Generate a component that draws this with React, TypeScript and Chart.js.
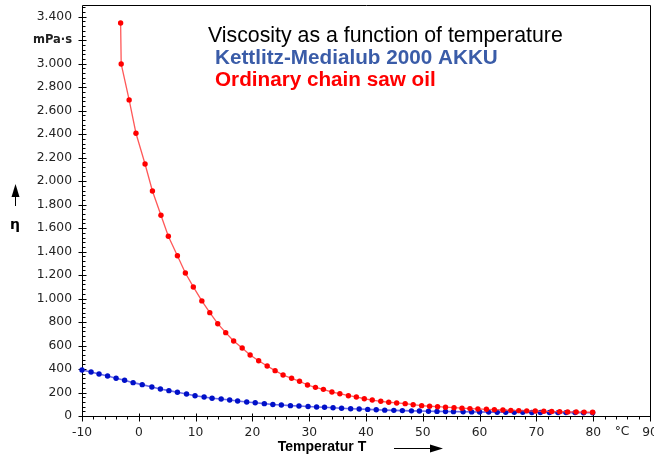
import React, { useEffect, useRef } from 'react';
import { Chart, registerables } from 'chart.js';

Chart.register(...registerables);

// ---- data ----
const kettlitzTemp = [
  -10, -8.4, -7.0, -5.5, -4.0, -2.5, -1.0, 0.6, 2.3, 3.8,
  5.3, 6.8, 8.4, 9.9, 11.5, 12.9, 14.5, 16.0, 17.4, 19.0,
  20.5, 22.1, 23.6, 25.1, 26.7, 28.2, 29.8, 31.3, 32.7, 34.2,
  35.7, 37.3, 38.8, 40.3, 41.8, 43.3, 44.9, 46.4, 48.0, 49.4,
  51.0, 52.5, 54.0, 55.4, 57.1, 58.6, 60.0, 61.6, 63.1, 64.6,
  66.1, 67.6, 69.2, 70.7, 72.3, 73.8, 75.2, 76.8, 78.3, 79.9,
];
const kettlitzVisc = [
  392, 375, 358, 341, 321, 304, 284, 267, 247, 230,
  216, 202, 187, 173, 162, 151, 145, 136, 128, 119,
  113, 105, 98, 94, 88, 85, 81, 77, 74, 70,
  66, 62, 59, 56, 53, 50, 48, 46, 44, 42,
  40, 39, 38, 37, 36, 35, 34, 33, 32, 32,
  31, 31, 30, 30, 30, 29, 29, 29, 28, 28,
];
const chainSawTemp = [
  -3.2, -3.1, -1.7, -0.5, 1.1, 2.4, 3.9, 5.2, 6.8, 8.2,
  9.6, 11.1, 12.5, 13.9, 15.3, 16.7, 18.2, 19.6, 21.1, 22.6,
  24.0, 25.4, 26.9, 28.3, 29.7, 31.1, 32.5, 34.0, 35.4, 36.9,
  38.3, 39.7, 41.1, 42.6, 44.0, 45.4, 46.9, 48.3, 49.8, 51.2,
  52.6, 54.0, 55.5, 56.9, 58.3, 59.7, 61.2, 62.6, 64.1, 65.5,
  66.9, 68.3, 69.8, 71.3, 72.7, 74.1, 75.5, 77.0, 78.4, 79.9,
];
const chainSawVisc = [
  3347, 2998, 2692, 2408, 2146, 1916, 1710, 1531, 1365, 1218,
  1099, 980, 880, 786, 710, 639, 579, 520, 471, 426,
  386, 349, 321, 296, 264, 244, 227, 204, 190, 173,
  162, 147, 136, 125, 117, 111, 105, 96, 88, 83,
  79, 75, 71, 67, 63, 60, 57, 54, 51, 48,
  46, 44, 42, 40, 38, 37, 35, 34, 33, 32,
];

const xMin = -10;
const xMax = 90;
const xStep = 10;
const xMinorStep = 2;
const yMin = 0;
const yMax = 3500;
const yStep = 200;
const yMinorStep = 40;
const yUnitTickValue = 3200;

const titleLines = [
  'Viscosity as a function of temperature',
  'Kettlitz-Medialub 2000 AKKU',
  'Ordinary chain saw oil',
];
const yUnitLabel = 'mPa·s';
const xAxisTitle = 'Temperatur T';
const yAxisTitle = 'η';
const xUnitLabel = '°C';

const TICK_FONT = 'DejaVu Sans';
const TICK_SIZE = 12.3;
const TICK_COLOR = '#222';

function fmtThousands(v: number): string {
  const s = Math.round(v).toString();
  return s.replace(/\B(?=(\d{3})+(?!\d))/g, '.');
}

const decorPlugin = {
  id: 'decor',
  beforeDatasetsDraw(chart: any) {
    const { ctx, chartArea } = chart;
    const xs = chart.scales.x;
    const ys = chart.scales.y;
    const { left, right, top, bottom } = chartArea;
    ctx.save();
    ctx.strokeStyle = '#000';
    ctx.lineWidth = 1;
    ctx.beginPath();
    ctx.rect(Math.round(left) + 0.5, Math.round(top) + 0.5, Math.round(right - left), Math.round(bottom - top));
    ctx.stroke();
    ctx.beginPath();
    for (let v = yMin; v <= yMax + 0.001; v += yMinorStep) {
      const py = Math.round(ys.getPixelForValue(v)) + 0.5;
      const lx = Math.round(left) + 0.5;
      ctx.moveTo(lx, py);
      ctx.lineTo(lx + 3, py);
    }
    for (let v = yMin; v <= yMax - 100; v += yStep) {
      const py = Math.round(ys.getPixelForValue(v)) + 0.5;
      const lx = Math.round(left) + 0.5;
      ctx.moveTo(lx - 4, py);
      ctx.lineTo(lx + 4, py);
    }
    for (let v = xMin; v <= xMax + 0.001; v += xMinorStep) {
      const px = Math.round(xs.getPixelForValue(v)) + 0.5;
      const by = Math.round(bottom) + 0.5;
      ctx.moveTo(px, by);
      ctx.lineTo(px, by + 3);
    }
    for (let v = xMin; v <= xMax + 0.001; v += xStep) {
      const px = Math.round(xs.getPixelForValue(v)) + 0.5;
      const by = Math.round(bottom) + 0.5;
      ctx.moveTo(px, by - 3);
      ctx.lineTo(px, by + 5);
    }
    ctx.stroke();
    ctx.restore();
  },
  afterDraw(chart: any) {
    const { ctx } = chart;
    ctx.save();
    ctx.textBaseline = 'alphabetic';
    ctx.textAlign = 'left';
    ctx.fillStyle = '#000';
    ctx.font = '21.3px "Liberation Sans", Arial, sans-serif';
    ctx.fillText(titleLines[0], 208, 42);
    ctx.font = 'bold 20.7px "Liberation Sans", Arial, sans-serif';
    ctx.fillStyle = '#3A5CA8';
    ctx.fillText(titleLines[1], 215, 64);
    ctx.fillStyle = '#FF0000';
    ctx.fillText(titleLines[2], 215, 86);

    ctx.fillStyle = TICK_COLOR;
    ctx.font = `${TICK_SIZE}px "${TICK_FONT}", sans-serif`;
    ctx.textAlign = 'center';
    ctx.textBaseline = 'middle';
    ctx.fillText(xUnitLabel, 622, 432);

    ctx.fillStyle = '#000';
    ctx.font = 'bold 14px "Liberation Sans", Arial, sans-serif';
    ctx.fillText(xAxisTitle, 322, 447);
    ctx.strokeStyle = '#000';
    ctx.lineWidth = 1;
    ctx.beginPath();
    ctx.moveTo(394, 448.5);
    ctx.lineTo(432, 448.5);
    ctx.stroke();
    ctx.beginPath();
    ctx.moveTo(443, 448.5);
    ctx.lineTo(430, 444.5);
    ctx.lineTo(430, 452.5);
    ctx.closePath();
    ctx.fill();

    ctx.font = 'bold 14px "DejaVu Sans", sans-serif';
    ctx.fillText(yAxisTitle, 15, 225);
    ctx.beginPath();
    ctx.moveTo(15.5, 206);
    ctx.lineTo(15.5, 195);
    ctx.stroke();
    ctx.beginPath();
    ctx.moveTo(15.5, 184);
    ctx.lineTo(11.5, 197);
    ctx.lineTo(19.5, 197);
    ctx.closePath();
    ctx.fill();
    ctx.restore();
  },
};

export default function App() {
  const canvasRef = useRef<HTMLCanvasElement | null>(null);

  useEffect(() => {
    const canvas = canvasRef.current;
    if (!canvas) return;
    const chainData = chainSawTemp.map((t, i) => ({ x: t, y: chainSawVisc[i] }));
    const kettData = kettlitzTemp.map((t, i) => ({ x: t, y: kettlitzVisc[i] }));

    const chart = new Chart(canvas, {
      type: 'scatter',
      data: {
        datasets: [
          {
            label: titleLines[2],
            data: chainData,
            showLine: true,
            borderColor: 'rgba(255,70,70,0.9)',
            borderWidth: 1.3,
            pointRadius: 2.7,
            pointBorderWidth: 0,
            pointBackgroundColor: '#FF0000',
            pointBorderColor: '#FF0000',
            clip: false,
            order: 0,
          },
          {
            label: titleLines[1],
            data: kettData,
            showLine: true,
            borderColor: 'rgba(90,90,230,0.9)',
            borderWidth: 1.6,
            pointRadius: 2.7,
            pointBorderWidth: 0,
            pointBackgroundColor: '#0010C8',
            pointBorderColor: '#0010C8',
            clip: false,
            order: 1,
          },
        ],
      },
      options: {
        animation: false,
        responsive: false,
        maintainAspectRatio: false,
        layout: { padding: { top: 5, right: 2, left: 0, bottom: 0 } },
        plugins: {
          legend: { display: false },
          tooltip: { enabled: false },
          title: { display: false },
        },
        scales: {
          x: {
            type: 'linear',
            min: xMin,
            max: xMax,
            grid: { display: false, drawTicks: false },
            border: { display: false },
            ticks: {
              stepSize: xStep,
              autoSkip: false,
              maxRotation: 0,
              padding: 9,
              color: TICK_COLOR,
              font: { family: TICK_FONT, size: TICK_SIZE },
              callback: (v: any) => String(v),
            },
            afterFit: (s: any) => {
              s.height = 38;
              s.paddingLeft = 0;
              s.paddingRight = 0;
            },
          },
          y: {
            type: 'linear',
            min: yMin,
            max: yMax,
            grid: { display: false, drawTicks: false },
            border: { display: false },
            ticks: {
              stepSize: yStep,
              includeBounds: false,
              padding: 10,
              color: TICK_COLOR,
              font: (ctx: any) =>
                ctx.tick && ctx.tick.value === yUnitTickValue
                  ? { family: TICK_FONT, size: TICK_SIZE - 0.8, weight: 'bold' }
                  : { family: TICK_FONT, size: TICK_SIZE },
              callback: (v: any) => (v === yUnitTickValue ? yUnitLabel : fmtThousands(v)),
            },
            afterFit: (s: any) => {
              s.width = 82;
              s.paddingTop = 0;
              s.paddingBottom = 0;
            },
          },
        },
      },
      plugins: [decorPlugin],
    } as any);

    return () => {
      chart.destroy();
    };
  }, []);

  return (
    <div style={{ position: 'absolute', left: 0, top: 0, width: 654, height: 454, background: '#fff' }}>
      <canvas ref={canvasRef} width={654} height={454} style={{ width: 654, height: 454, display: 'block' }} />
    </div>
  );
}
